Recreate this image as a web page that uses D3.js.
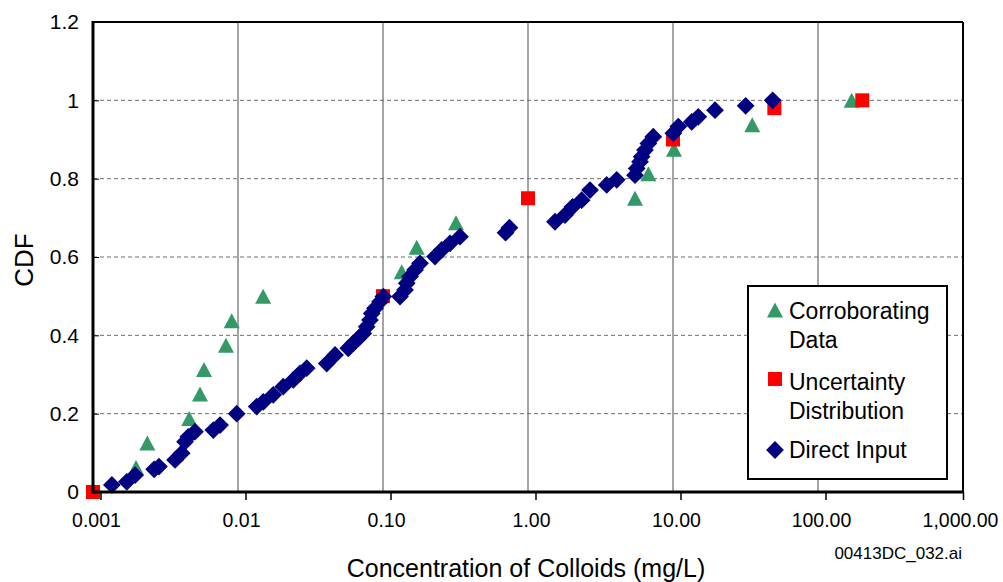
<!DOCTYPE html>
<html>
<head>
<meta charset="utf-8">
<script src="https://cdn.jsdelivr.net/npm/d3@7"></script>
<style>
  html, body { margin: 0; padding: 0; background: #fff; }
  svg { display: block; font-family: "Liberation Sans", Arial, Helvetica, sans-serif; }
</style>
</head>
<body>
<svg id="chart" width="1003" height="582"></svg>
<script>
// Corroborating data (concentration in mg/L, cumulative probability)
const corroboratingConc = [0.00198, 0.00237, 0.00461, 0.00547, 0.00583, 0.00826, 0.00905, 0.0149,
                           0.1346, 0.1708, 0.3187, 5.47, 6.76, 10.16, 35.2, 170.6];
const corroboratingCdf  = [0.0625, 0.125, 0.1875, 0.25, 0.3125, 0.375, 0.4375, 0.5,
                           0.5625, 0.625, 0.6875, 0.75, 0.8125, 0.875, 0.9375, 1.0];

// Uncertainty distribution
const uncertaintyConc = [0.001, 0.1, 1.0, 10, 50, 202];
const uncertaintyCdf  = [0, 0.5, 0.75, 0.9, 0.98, 1.0];

// Direct input
const directConc = [0.00135, 0.00171, 0.00195, 0.00264, 0.00285, 0.00368, 0.00409, 0.00431, 0.00454, 0.00505,
                    0.00676, 0.00752, 0.0098, 0.01346, 0.01494, 0.0175, 0.0205, 0.02406, 0.02677, 0.02977,
                    0.0409, 0.0467, 0.0576, 0.0624, 0.0676, 0.0731, 0.0772, 0.0813, 0.0836, 0.0881,
                    0.0954, 0.1005, 0.131, 0.1418, 0.1457, 0.1536, 0.1662, 0.18, 0.2284, 0.254,
                    0.29, 0.3396, 0.70, 0.745, 1.535, 1.80, 2.03, 2.345, 2.677, 3.49,
                    4.09, 5.47, 5.62, 5.92, 6.08, 6.41, 6.76, 7.31, 10.05, 10.88,
                    13.46, 14.94, 19.49, 31.7, 48.7];
const directCdf  = [0.018, 0.026, 0.043, 0.058, 0.065, 0.082, 0.099, 0.128, 0.141, 0.154,
                    0.158, 0.171, 0.200, 0.218, 0.230, 0.248, 0.269, 0.286, 0.303, 0.316,
                    0.328, 0.350, 0.367, 0.380, 0.392, 0.405, 0.422, 0.439, 0.456, 0.469,
                    0.486, 0.499, 0.499, 0.516, 0.533, 0.550, 0.567, 0.584, 0.601, 0.618,
                    0.635, 0.652, 0.662, 0.675, 0.690, 0.707, 0.728, 0.745, 0.771, 0.784,
                    0.797, 0.809, 0.826, 0.843, 0.856, 0.873, 0.890, 0.907, 0.916, 0.933,
                    0.945, 0.958, 0.975, 0.986, 1.000];

// Axis ticks
const xTickValues = [0.001, 0.01, 0.1, 1, 10, 100, 1000];
const xTickLabels = ["0.001", "0.01", "0.10", "1.00", "10.00", "100.00", "1,000.00"];
const yTickValues = [0, 0.2, 0.4, 0.6, 0.8, 1, 1.2];
const yTickLabels = ["0", "0.2", "0.4", "0.6", "0.8", "1", "1.2"];

const legendLabels = [["Corroborating", "Data"], ["Uncertainty", "Distribution"], ["Direct Input"]];

// Layout
const plot = { left: 93, right: 963, top: 22, bottom: 492 };
const colors = { green: "#339966", red: "#ff0000", navy: "#000080" };

const svg = d3.select("#chart");

const x = d3.scaleLog().domain([0.001, 1000]).range([plot.left, plot.right]);
const y = d3.scaleLinear().domain([0, 1.2]).range([plot.bottom, plot.top]);

// Grid: solid verticals at each decade, dashed horizontals
const grid = svg.append("g");
grid.selectAll("line.v")
  .data(xTickValues.slice(1, -1))
  .join("line")
  .attr("x1", d => x(d)).attr("x2", d => x(d))
  .attr("y1", plot.top).attr("y2", plot.bottom)
  .attr("stroke", "#4a4a4a").attr("stroke-width", 1);
grid.selectAll("line.h")
  .data(yTickValues.slice(1, -1))
  .join("line")
  .attr("x1", plot.left).attr("x2", plot.right)
  .attr("y1", d => y(d)).attr("y2", d => y(d))
  .attr("stroke", "#6e6e6e").attr("stroke-width", 1)
  .attr("stroke-dasharray", "4,3");

// Marker shapes
const triW = 16, triH = 15;
const trianglePath = `M0,${-triH / 2}L${triW / 2},${triH / 2}L${-triW / 2},${triH / 2}Z`;
const squareSide = 14;
const diamondPath = d3.symbol(d3.symbolSquare, 158)();

const corroborating = corroboratingConc.map((c, i) => ({ c, p: corroboratingCdf[i] }));
const uncertainty = uncertaintyConc.map((c, i) => ({ c, p: uncertaintyCdf[i] }));
const direct = directConc.map((c, i) => ({ c, p: directCdf[i] }));

svg.append("g").selectAll("path")
  .data(corroborating)
  .join("path")
  .attr("d", trianglePath)
  .attr("transform", d => `translate(${x(d.c)},${y(d.p)})`)
  .attr("fill", colors.green);

svg.append("g").selectAll("rect")
  .data(uncertainty)
  .join("rect")
  .attr("x", d => x(d.c) - squareSide / 2)
  .attr("y", d => y(d.p) - squareSide / 2)
  .attr("width", squareSide).attr("height", squareSide)
  .attr("fill", colors.red);

svg.append("g").selectAll("path")
  .data(direct)
  .join("path")
  .attr("d", diamondPath)
  .attr("transform", d => `translate(${x(d.c)},${y(d.p)}) rotate(45)`)
  .attr("fill", colors.navy);

// Y axis labels and small inward ticks
const yAxis = svg.append("g")
  .attr("transform", `translate(${plot.left},0)`)
  .call(d3.axisLeft(y).tickValues(yTickValues)
    .tickFormat((d, i) => yTickLabels[i]).tickSize(0).tickPadding(14));
yAxis.select(".domain").remove();
yAxis.selectAll("text").attr("font-size", 21).attr("fill", "#000")
  .style("font-family", "'Liberation Sans', Arial, sans-serif");
yAxis.selectAll(".tick").append("line")
  .attr("x1", 0).attr("x2", 6)
  .attr("stroke", "#000").attr("stroke-width", 1);

// X axis labels and ticks below the frame
const xAxis = svg.append("g")
  .attr("transform", `translate(0,${plot.bottom})`)
  .call(d3.axisBottom(x).tickValues(xTickValues)
    .tickFormat((d, i) => xTickLabels[i]).tickSize(8).tickPadding(0));
xAxis.select(".domain").remove();
xAxis.selectAll(".tick line")
  .attr("stroke", "#000").attr("stroke-width", 1.5)
  .attr("transform", d => `translate(${Math.min(7.5, plot.right - x(d))},0)`);
xAxis.selectAll(".tick text")
  .attr("y", 21).attr("dy", "0.71em")
  .attr("x", (d, i) => i === xTickValues.length - 1 ? -3 : 3)
  .attr("font-size", 19.5).attr("fill", "#000")
  .style("font-family", "'Liberation Sans', Arial, sans-serif");

// Frame
svg.append("line").attr("x1", plot.left).attr("x2", plot.right)
  .attr("y1", plot.top).attr("y2", plot.top).attr("stroke", "#000").attr("stroke-width", 2);
svg.append("line").attr("x1", plot.right).attr("x2", plot.right)
  .attr("y1", plot.top).attr("y2", plot.bottom).attr("stroke", "#000").attr("stroke-width", 2);
svg.append("line").attr("x1", plot.left).attr("x2", plot.left)
  .attr("y1", plot.top - 1).attr("y2", plot.bottom + 1.5).attr("stroke", "#000").attr("stroke-width", 3);
svg.append("line").attr("x1", plot.left - 1.5).attr("x2", plot.right + 1)
  .attr("y1", plot.bottom).attr("y2", plot.bottom).attr("stroke", "#000").attr("stroke-width", 3);

// Axis titles
svg.append("text")
  .attr("transform", `translate(33,260) rotate(-90)`)
  .attr("text-anchor", "middle")
  .attr("font-size", 26)
  .text("CDF");
svg.append("text")
  .attr("x", 526).attr("y", 577)
  .attr("text-anchor", "middle")
  .attr("font-size", 25)
  .text("Concentration of Colloids (mg/L)");
svg.append("text")
  .attr("x", 962).attr("y", 559)
  .attr("text-anchor", "end")
  .attr("font-size", 17)
  .text("00413DC_032.ai");

// Legend
const legend = svg.append("g");
legend.append("rect")
  .attr("x", 748).attr("y", 286).attr("width", 199).attr("height", 193)
  .attr("fill", "#fff").attr("stroke", "#000").attr("stroke-width", 2);

const legendRows = [
  { cy: 310, baseline: 319 },
  { cy: 379, baseline: 390 },
  { cy: 450, baseline: 458 }
];
legend.append("path").attr("d", trianglePath)
  .attr("transform", `translate(775,${legendRows[0].cy})`).attr("fill", colors.green);
legend.append("rect")
  .attr("x", 775 - squareSide / 2).attr("y", legendRows[1].cy - squareSide / 2)
  .attr("width", squareSide).attr("height", squareSide).attr("fill", colors.red);
legend.append("path").attr("d", diamondPath)
  .attr("transform", `translate(775,${legendRows[2].cy}) rotate(45)`).attr("fill", colors.navy);

legendRows.forEach((row, i) => {
  const t = legend.append("text").attr("x", 789).attr("y", row.baseline).attr("font-size", 23);
  legendLabels[i].forEach((line, j) => {
    t.append("tspan").attr("x", 789).attr("dy", j === 0 ? 0 : 29).text(line);
  });
});
</script>
</body>
</html>
